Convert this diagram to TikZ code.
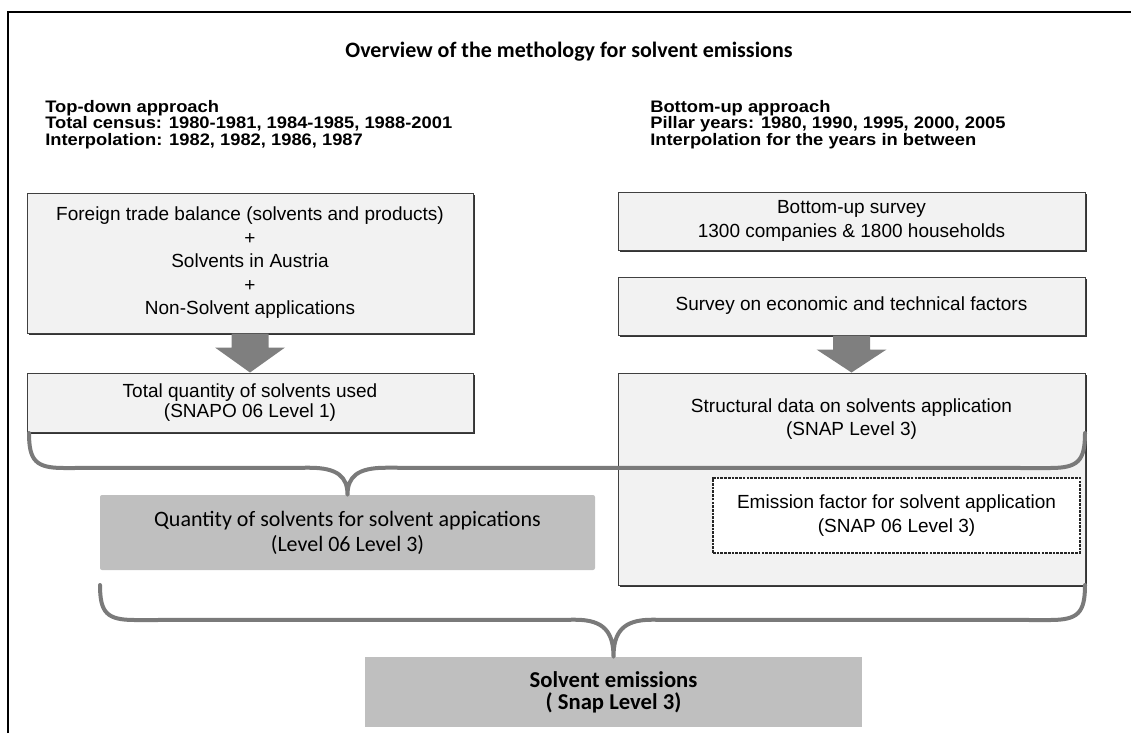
\documentclass[tikz,border=0pt]{standalone}
\usepackage{fontspec}
\setmainfont{Liberation Sans}
\newfontfamily\calib{Carlito}
\newfontfamily\headfont[FakeStretch=1.1]{Liberation Sans}
\usetikzlibrary{calc,shadows}
\definecolor{boxfill}{HTML}{F2F2F2}
\definecolor{boxline}{HTML}{404040}
\definecolor{darkfill}{HTML}{BFBFBF}
\definecolor{arrowgray}{HTML}{7F7F7F}
\definecolor{bracegray}{HTML}{7A7A7A}
\tikzset{
 px/.style={x=0.75pt,y=-0.75pt},
 lightbox/.style={draw=boxline, line width=0.75pt, fill=boxfill, inner sep=0pt, align=center,
   font=\fontsize{14.25}{17.6}\selectfont,
   drop shadow={shadow xshift=1.3pt, shadow yshift=-1.3pt, fill=black!80, opacity=1}},
 greybox/.style={fill=darkfill, rounded corners=1.5pt, inner sep=0pt, align=center,
   font=\calib\fontsize{16.5}{18.75}\selectfont},
 dashbox/.style={draw=black!85, dash pattern=on 2pt off 0.8pt, line width=0.9pt, fill=white,
   inner sep=0pt, align=center, font=\fontsize{14.25}{17.6}\selectfont},
 plaintext/.style={inner sep=0pt, align=center, font=\fontsize{14.25}{17.6}\selectfont},
 headtext/.style={inner sep=0pt, anchor=base west, font=\headfont\bfseries\fontsize{12.5}{14}\selectfont},
 blockarrow/.style={fill=arrowgray},
 bracestroke/.style={draw=bracegray, line width=3pt, line cap=round, line join=round},
}
\begin{document}
\begin{tikzpicture}[px]
\useasboundingbox (0,0) rectangle (1131,733);
\draw[line width=1.5pt] (8,733) -- (8,12) -- (1131,12);

\node[font=\calib\bfseries\fontsize{16.5}{19}\selectfont, inner sep=0pt] (title) at (569,52) {Overview of the methology for solvent emissions};

\node[headtext] (tdh) at (45,112) {Top-down approach};
\node[headtext] (tdc) at (45,128.5) {Total census: 1980-1981, 1984-1985, 1988-2001};
\node[headtext] (tdi) at (45,145) {Interpolation: 1982, 1982, 1986, 1987};
\node[headtext] (buh) at (650,112) {Bottom-up approach};
\node[headtext] (bup) at (650,128.5) {Pillar years: 1980, 1990, 1995, 2000, 2005};
\node[headtext] (bui) at (650,145) {Interpolation for the years in between};

% left column
\node[lightbox, minimum width=334.5pt, minimum height=105pt] (ftb) at (250,263)
  {Foreign trade balance (solvents and products)\\+\\Solvents in Austria\\+\\Non-Solvent applications};
\node[lightbox, minimum width=334.5pt, minimum height=44.25pt, font=\fontsize{14.25}{15}\selectfont] (tq) at (250,402.5)
  {Total quantity of solvents used\\(SNAPO 06 Level 1)};

% right column
\node[lightbox, minimum width=350.25pt, minimum height=43.5pt] (bus) at (851.5,221)
  {Bottom-up survey\\1300 companies \& 1800 households};
\node[lightbox, minimum width=350.25pt, minimum height=43.5pt] (sef) at (851.5,306)
  {Survey on economic and technical factors};
\node[lightbox, minimum width=350.25pt, minimum height=159pt] (sd) at (851.5,479) {};
\node[plaintext] (sdt) at (851.5,419) {Structural data on solvents application\\(SNAP Level 3)};

% block arrows
\fill[blockarrow] ($(ftb.south)+(-18.5,0)$) -- ($(ftb.south)+(18.5,0)$) -- ($(ftb.south)+(18.5,14)$)
  -- ($(ftb.south)+(35,14)$) -- (tq.north) -- ($(ftb.south)+(-35,14)$) -- ($(ftb.south)+(-18.5,14)$) -- cycle;
\fill[blockarrow] ($(sef.south)+(-18.5,0)$) -- ($(sef.south)+(18.5,0)$) -- ($(sef.south)+(18.5,14)$)
  -- ($(sef.south)+(35,14)$) -- (sd.north) -- ($(sef.south)+(-35,14)$) -- ($(sef.south)+(-18.5,14)$) -- cycle;

% grey result boxes
\node[greybox, minimum width=371.25pt, minimum height=56.25pt] (qty) at (347.5,532.5)
  {Quantity of solvents for solvent appications\\(Level 06 Level 3)};
\node[greybox, rounded corners=0pt, minimum width=372.75pt, minimum height=52.5pt,
  font=\calib\bfseries\fontsize{17}{16.3}\selectfont] (se) at (613.5,692)
  {Solvent emissions\\( Snap Level 3)};

% top brace
\coordinate (tb1) at (29,433);
\coordinate (tb2) at (1085,433);
\draw[bracestroke] (tb1) .. controls +(0,28) and +(-28,0) .. ($(tb1)+(35,35)$)
  -- ($(qty.north)+(-38,-27)$) .. controls +(28,0) and +(0,-18) .. (qty.north)
  .. controls +(0,-18) and +(-28,0) .. ($(qty.north)+(38,-27)$)
  -- ($(tb2)+(-35,35)$) .. controls +(28,0) and +(0,28) .. (tb2);

\node[dashbox, minimum width=275.25pt, minimum height=56.25pt] (ef) at (896.5,515.5)
  {Emission factor for solvent application\\(SNAP 06 Level 3)};

% bottom brace
\coordinate (bb1) at (100,585);
\coordinate (bb2) at (1085,585);
\draw[bracestroke] (bb1) .. controls +(0,28) and +(-28,0) .. ($(bb1)+(35,35)$)
  -- ($(se.north)+(-38,-37)$) .. controls +(28,0) and +(0,-25) .. (se.north)
  .. controls +(0,-25) and +(-28,0) .. ($(se.north)+(38,-37)$)
  -- ($(bb2)+(-35,35)$) .. controls +(28,0) and +(0,28) .. (bb2);
\end{tikzpicture}
\end{document}
